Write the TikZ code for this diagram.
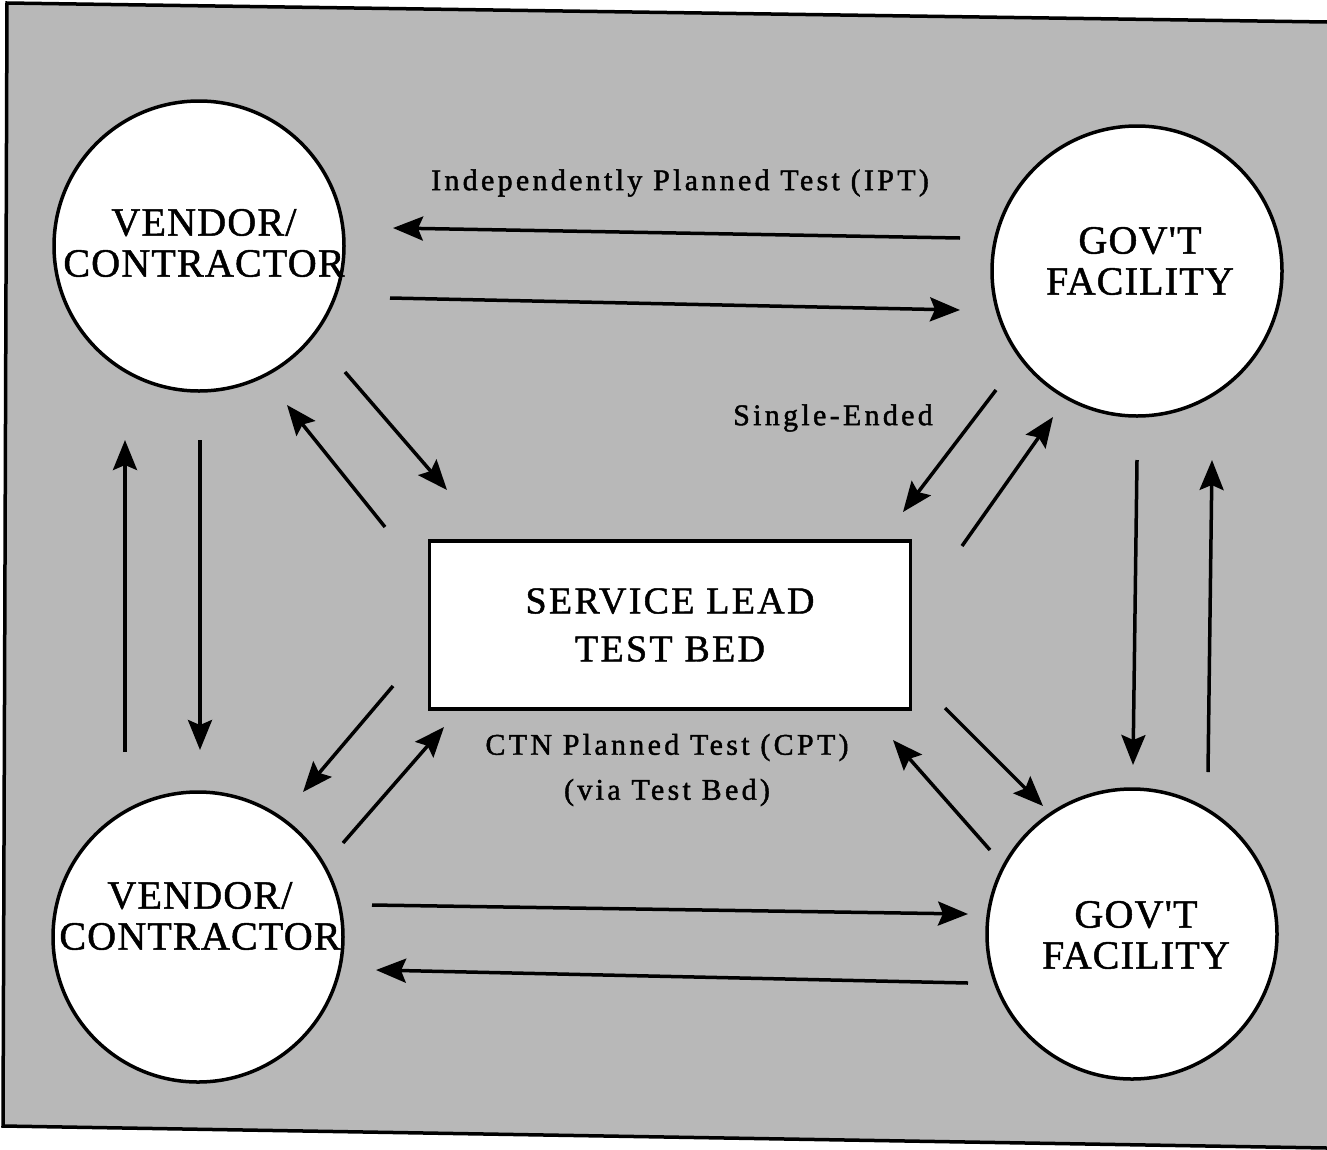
\documentclass[tikz,border=0pt]{standalone}
\usepackage{fontspec}
\setmainfont{Liberation Serif}
\newfontfamily\capsfam[LetterSpace=3,FakeBold=1.2]{Liberation Serif}
\newfontfamily\boxfam[LetterSpace=6,FakeBold=1.2]{Liberation Serif}
\newfontfamily\lblfam[LetterSpace=11,FakeBold=1.5]{Liberation Serif}
\newcommand\circfont{\capsfam\fontsize{40}{41}\selectfont}
\newcommand\boxfont{\boxfam\fontsize{38}{48}\selectfont}
\newcommand\lblfont{\lblfam\fontsize{30}{45}\selectfont}
\usetikzlibrary{arrows.meta}
\definecolor{screen}{gray}{0.72}
\begin{document}
\begin{tikzpicture}[x=1pt,y=-1pt,
  ent/.style={circle, draw, line width=3.5pt, fill=white, minimum size=290pt, inner sep=0pt},
  bigtxt/.style={font=\circfont, align=center, inner sep=0pt},
  lbl/.style={font=\lblfont, align=center, inner sep=0pt},
  arr/.style={line width=3.5pt, -{Stealth[length=30pt,width=24pt,inset=5pt]}},
  frameline/.style={line width=3.5pt, line cap=round}]
\useasboundingbox (0,0) rectangle (1327,1149);
% background screen and frame
\fill[screen] (7,3) -- (1327,22) -- (1327,1148) -- (3,1126) -- cycle;
\draw[frameline] (1327,22) -- (7,3) -- (3,1126) -- (1327,1148);
% entities
\node[ent] (vtl) at (199,246) {};
\node[ent] (gtr) at (1137,271) {};
\node[ent] (vbl) at (198,937) {};
\node[ent] (gbr) at (1132,934) {};
\node[bigtxt] (tvtl) at (204,243) {VENDOR/\\CONTRACTOR};
\node[bigtxt] (tgtr) at (1140,261) {GOV'T\\FACILITY};
\node[bigtxt] (tvbl) at (200,916) {VENDOR/\\CONTRACTOR};
\node[bigtxt] (tgbr) at (1136,935) {GOV'T\\FACILITY};
\node[draw, line width=3.5pt, fill=white, minimum width=481pt, minimum height=168pt,
      font=\boxfont, align=center] (bed) at (670,625) {SERVICE LEAD\\TEST BED};
% labels
\node[lbl] (ipt) at (680,183) {Independently Planned Test (IPT)};
\node[lbl] (se) at (833,418) {Single-Ended};
\node[lbl] (cpt) at (667,770) {CTN Planned Test (CPT)\\(via Test Bed)};
% arrow end points
\coordinate (a1s) at (960,238); \coordinate (a1e) at (393,228);
\coordinate (a2s) at (390,298); \coordinate (a2e) at (960,310);
\coordinate (a3s) at (345,372); \coordinate (a3e) at (447,490);
\coordinate (a4s) at (385,527); \coordinate (a4e) at (287,405);
\coordinate (a5s) at (996,390); \coordinate (a5e) at (903,512);
\coordinate (a6s) at (962,546); \coordinate (a6e) at (1053,417);
\coordinate (a7s) at (200,440); \coordinate (a7e) at (200,750);
\coordinate (a8s) at (125,752); \coordinate (a8e) at (125,440);
\coordinate (a9s) at (1137,460); \coordinate (a9e) at (1133,765);
\coordinate (a10s) at (1208,772); \coordinate (a10e) at (1212,460);
\coordinate (a11s) at (393,686); \coordinate (a11e) at (303,792);
\coordinate (a12s) at (343,843); \coordinate (a12e) at (444,727);
\coordinate (a13s) at (945,708); \coordinate (a13e) at (1043,806);
\coordinate (a14s) at (990,850); \coordinate (a14e) at (893,740);
\coordinate (a15s) at (372,905); \coordinate (a15e) at (968,914);
\coordinate (a16s) at (968,983); \coordinate (a16e) at (376,970);
\foreach \i in {1,...,16} {\draw[arr] (a\i s) -- (a\i e);}
\end{tikzpicture}
\end{document}
